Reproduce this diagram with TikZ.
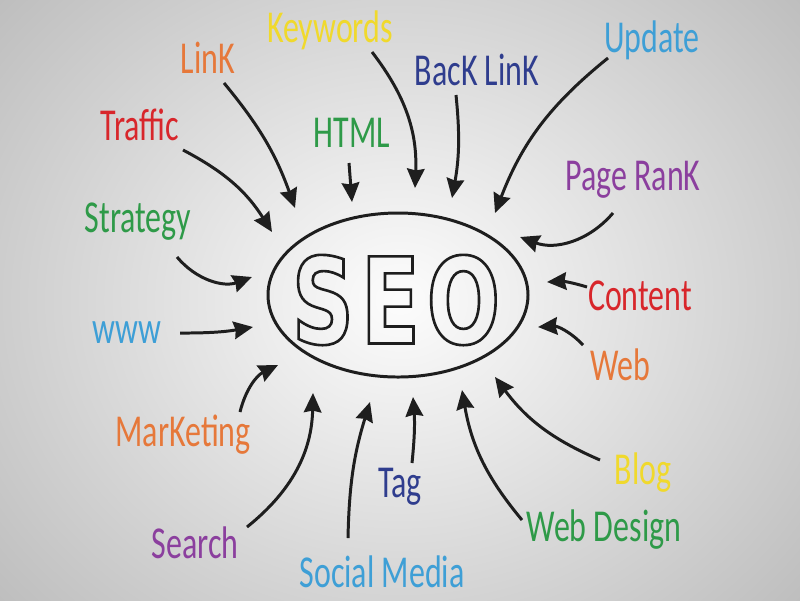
\documentclass[tikz,border=0pt]{standalone}
\usepackage{fontspec}
\setmainfont{Carlito}
\newfontfamily\handfont{Carlito}[FakeStretch=0.7]
\newfontfamily\seofont{DejaVu Sans}[FakeStretch=0.72, LetterSpace=6]
\usepackage{tikz}
\usetikzlibrary{arrows.meta,
                shapes,
                calc,
                positioning}
\definecolor{seoyellow}{HTML}{F0D92C}
\definecolor{seoorange}{HTML}{E6783A}
\definecolor{seored}{HTML}{D8262B}
\definecolor{seogreen}{HTML}{2E9A48}
\definecolor{seonavy}{HTML}{2F3D8E}
\definecolor{seosky}{HTML}{3E9FD6}
\definecolor{seopurple}{HTML}{8B3F9E}
\definecolor{seoline}{HTML}{1E1E1E}
\tikzstyle{lbl} = [font=\handfont\fontsize{26}{26}\selectfont, inner sep=1pt]
\tikzstyle{seoarrow} = [line width=1.7pt, draw=seoline, -{Stealth[length=11pt,width=10pt,inset=1pt]}]
\newcommand{\outlined}[1]{\special{pdf:literal direct 1 Tr 1.5 w}#1\special{pdf:literal direct 0 Tr}}

\begin{document}
\begin{tikzpicture}[x=0.02cm, y=-0.02cm]
\useasboundingbox (0,0) rectangle (800,600);
% background
\shade[inner color=white!98!gray, outer color=gray!52!white] (-140,-170) rectangle (940,770);
\clip (0,0) rectangle (800,600);

% centre
\draw[line width=1.7pt, seoline] (398,295) ellipse (130 and 82);
\node[font=\seofont\bfseries\fontsize{68}{68}\selectfont, seoline] (seo) at (396,300) {\outlined{SEO}};

% labels
\node[lbl, seoyellow] (keywords) at (330,30) {Keywords};
\node[lbl, seoorange] (link) at (208,58) {LinK};
\node[lbl, seored] (traffic) at (140,125) {Traffic};
\node[lbl, seogreen] (html) at (352,133) {HTML};
\node[lbl, seonavy] (backlink) at (477,70) {BacK LinK};
\node[lbl, seosky] (update) at (652,40) {Update};
\node[lbl, seopurple] (pagerank) at (633,180) {Page RanK};
\node[lbl, seogreen] (strategy) at (138,222) {Strategy};
\node[lbl, seored] (content) at (640,296) {Content};
\node[lbl, seosky] (www) at (127,333) {www};
\node[lbl, seoorange] (web) at (620,365) {Web};
\node[lbl, seoorange] (marketing) at (183,435) {MarKeting};
\node[lbl, seoyellow] (blog) at (643,473) {Blog};
\node[lbl, seonavy] (tag) at (400,487) {Tag};
\node[lbl, seopurple] (search) at (195,543) {Search};
\node[lbl, seogreen] (webdesign) at (604,530) {Web Design};
\node[lbl, seosky] (social) at (382,572) {Social Media};

% arrow ends
\coordinate (link-s) at (224,83);      \coordinate (link-e) at (295,208);
\coordinate (traffic-s) at (183,150);  \coordinate (traffic-e) at (272,232);
\coordinate (html-s) at (349,163);     \coordinate (html-e) at (352,202);
\coordinate (keywords-s) at (372,52);  \coordinate (keywords-e) at (415,188);
\coordinate (backlink-s) at (456,95);  \coordinate (backlink-e) at (452,198);
\coordinate (update-s) at (608,58);    \coordinate (update-e) at (495,213);
\coordinate (pagerank-s) at (613,213); \coordinate (pagerank-e) at (520,237);
\coordinate (content-s) at (587,287);  \coordinate (content-e) at (547,282);
\coordinate (strategy-s) at (177,257); \coordinate (strategy-e) at (252,277);
\coordinate (www-s) at (180,333);      \coordinate (www-e) at (253,327);
\coordinate (web-s) at (583,345);      \coordinate (web-e) at (538,327);
\coordinate (marketing-s) at (240,412); \coordinate (marketing-e) at (278,365);
\coordinate (search-s) at (247,527);   \coordinate (search-e) at (313,393);
\coordinate (social-s) at (348,538);   \coordinate (social-e) at (370,402);
\coordinate (tag-s) at (412,463);      \coordinate (tag-e) at (413,397);
\coordinate (webdesign-s) at (522,520); \coordinate (webdesign-e) at (462,390);
\coordinate (blog-s) at (600,460);     \coordinate (blog-e) at (495,377);

% arrows
\draw[seoarrow] (link-s) to[bend left=10] (link-e);
\draw[seoarrow] (traffic-s) to[bend left=15] (traffic-e);
\draw[seoarrow] (html-s) -- (html-e);
\draw[seoarrow] (keywords-s) to[bend left=20] (keywords-e);
\draw[seoarrow] (backlink-s) to[bend left=8] (backlink-e);
\draw[seoarrow] (update-s) to[bend right=15] (update-e);
\draw[seoarrow] (pagerank-s) to[bend left=35] (pagerank-e);
\draw[seoarrow] (content-s) to[bend right=10] (content-e);
\draw[seoarrow] (strategy-s) to[bend right=35] (strategy-e);
\draw[seoarrow] (www-s) to[bend right=5] (www-e);
\draw[seoarrow] (web-s) to[bend right=25] (web-e);
\draw[seoarrow] (marketing-s) to[bend left=25] (marketing-e);
\draw[seoarrow] (search-s) to[bend right=25] (search-e);
\draw[seoarrow] (social-s) to[bend left=8] (social-e);
\draw[seoarrow] (tag-s) to[bend right=5] (tag-e);
\draw[seoarrow] (webdesign-s) to[bend left=15] (webdesign-e);
\draw[seoarrow] (blog-s) to[bend left=15] (blog-e);
\end{tikzpicture}
\end{document}
